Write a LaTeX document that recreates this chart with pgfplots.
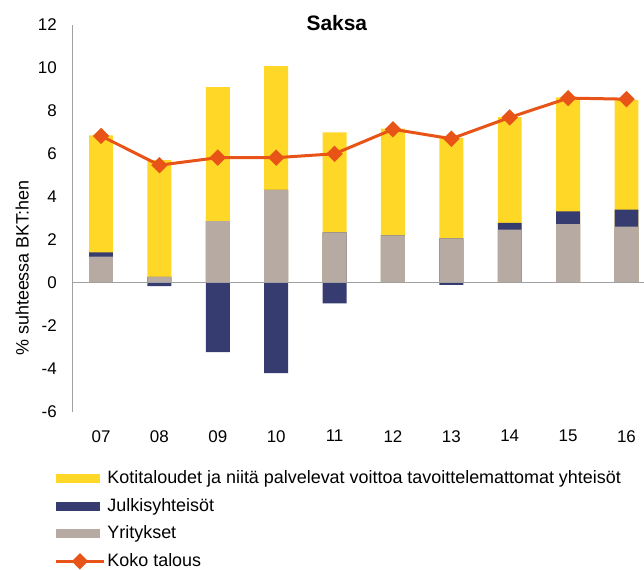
\documentclass[border=0pt]{standalone}
\usepackage{pgfplots}
\pgfplotsset{compat=1.18}
\usepackage{fontspec}
\setmainfont{Liberation Sans}
\definecolor{kyel}{RGB}{255,215,38}
\definecolor{knavy}{RGB}{54,59,112}
\definecolor{ktan}{RGB}{183,170,163}
\definecolor{korange}{RGB}{232,84,23}
\definecolor{kgrey}{RGB}{160,160,160}
\pgfplotsset{
  barleg/.style={legend image code/.code={\fill[##1] (0bp,-4.5bp) rectangle (44bp,4.5bp);}},
  lineleg/.style={legend image code/.code={\draw[mark repeat=2, mark phase=2, ##1] plot coordinates {(0bp,0bp) (24bp,0bp) (48bp,0bp)};}},
}
\begin{document}
\begin{tikzpicture}
\path[use as bounding box] (0,0) rectangle (644bp,570bp);
\begin{axis}[
  at={(72bp,158bp)}, anchor=south west,
  scale only axis, width=572bp, height=387bp,
  xmin=-0.497, xmax=9.30, ymin=-6, ymax=12,
  ytick={-6,-4,...,12},
  xtick={0,...,9},
  xticklabels={07,08,09,10,11,12,13,14,15,16},
  major tick length=0pt,
  axis line style={draw=none},
  /pgf/number format/assume math mode=true,
  tick label style={font=\fontsize{17}{20}\selectfont},
  every y tick label/.append style={inner sep=0pt, anchor=east, xshift=-15bp},
  every x tick label/.append style={inner sep=0pt, anchor=north, yshift=-18bp},
  ylabel={\% suhteessa BKT:hen},
  every axis y label/.style={at={(axis description cs:-0.087,0.372)}, rotate=90, anchor=center, font=\fontsize{18}{20}\selectfont},
  title={Saksa},
  title style={at={(axis description cs:0.463,0.990)}, anchor=center, font=\bfseries\fontsize{21}{24}\selectfont},
  ybar, bar width=0.41, bar shift=0pt,
  legend cell align=left,
  legend style={at={(axis description cs:-0.031,-0.145)}, anchor=north west, draw=none, fill=none,
    font=\fontsize{18}{20}\selectfont, row sep=6.5bp, inner sep=0pt,
    nodes={inner sep=2bp, text height=13.5bp, text depth=3.5bp}},
  clip=false,
]
\addplot[fill=kyel, draw=none, barleg] coordinates {
 (0,6.87) (1,5.72) (2,9.11) (3,10.09) (4,7.00) (5,7.18) (6,6.75) (7,7.71) (8,8.63) (9,8.52)};
\addlegendentry{Kotitaloudet ja niitä palvelevat voittoa tavoittelemattomat yhteisöt}
\addplot[fill=knavy, draw=none, barleg] coordinates {
 (0,1.42) (1,0.29) (2,2.88) (3,4.33) (4,2.35) (5,2.21) (6,2.07) (7,2.80) (8,3.33) (9,3.41)};
\addlegendentry{Julkisyhteisöt}
\addplot[fill=ktan, draw=none, barleg] coordinates {
 (0,1.23) (1,0.29) (2,2.88) (3,4.33) (4,2.35) (5,2.21) (6,2.07) (7,2.48) (8,2.74) (9,2.62)};
\addlegendentry{Yritykset}
\addplot[fill=knavy, draw=none, forget plot] coordinates {
 (0,0) (1,-0.14) (2,-3.21) (3,-4.19) (4,-0.95) (5,0) (6,-0.09) (7,0) (8,0) (9,0)};
\draw[kgrey, line width=1bp] (rel axis cs:0,0) -- (rel axis cs:0,1);
\draw[kgrey, line width=1bp] (axis cs:-0.497,0) -- (axis cs:9.30,0);
\addplot[sharp plot, korange, line width=3bp, mark=square*, mark size=4.3bp, mark options={rotate=45, solid, fill=korange}, lineleg] coordinates {
 (0,6.84) (1,5.48) (2,5.83) (3,5.83) (4,6.01) (5,7.15) (6,6.71) (7,7.70) (8,8.60) (9,8.55)};
\addlegendentry{Koko talous}
\end{axis}
\end{tikzpicture}
\end{document}
